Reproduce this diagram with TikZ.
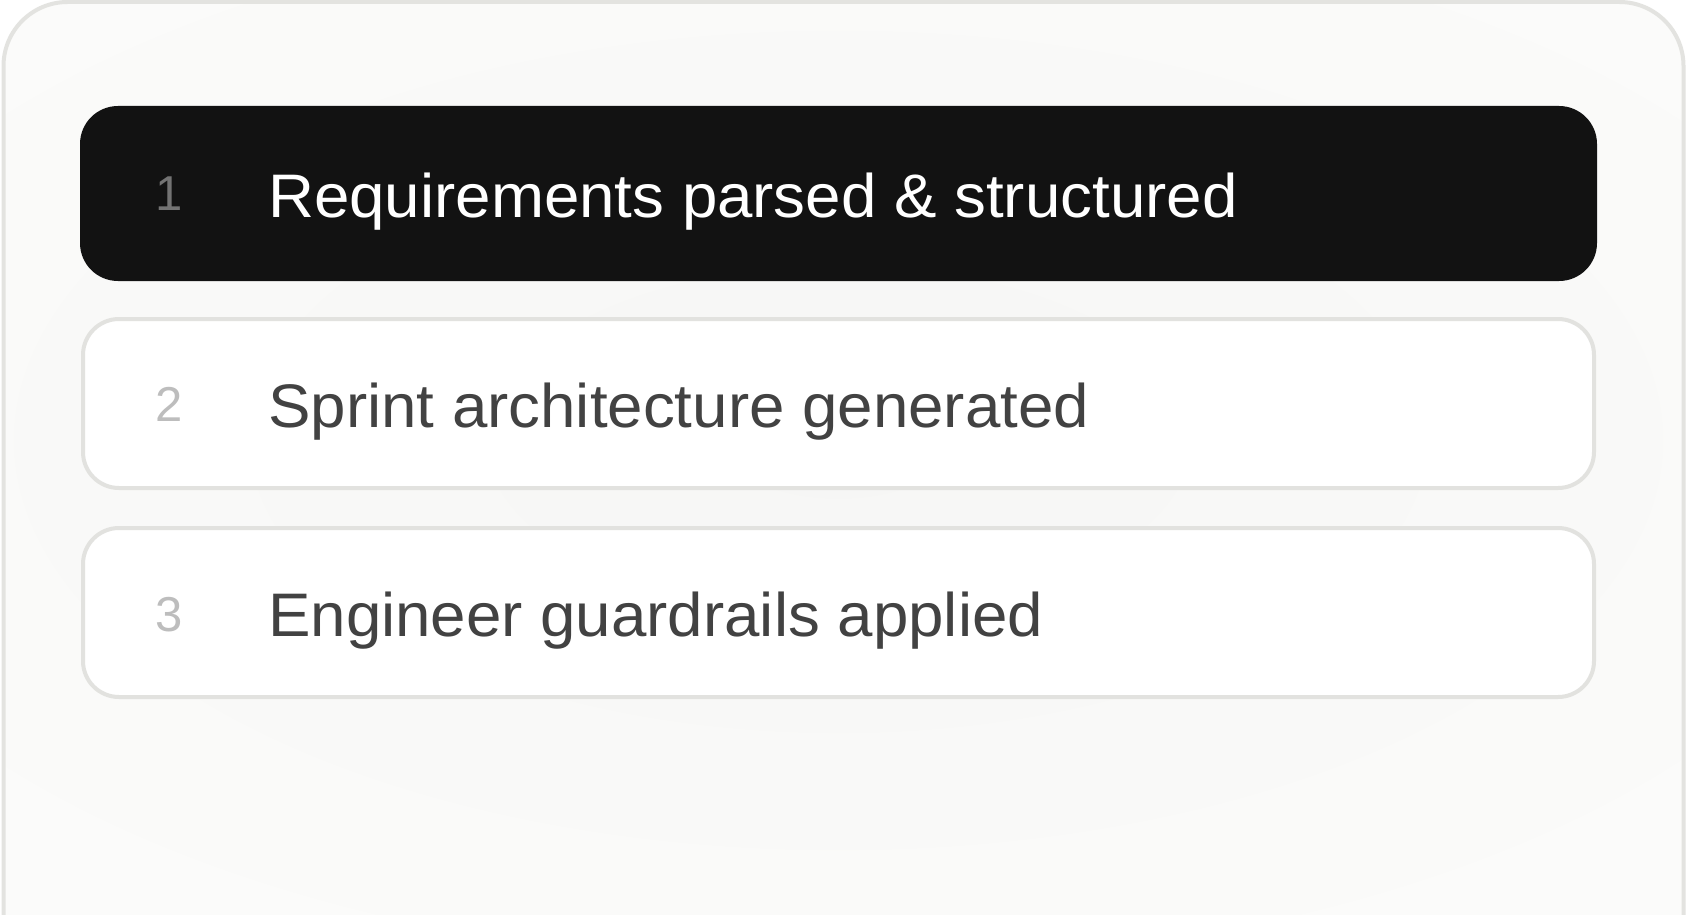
\documentclass[tikz,border=0pt]{standalone}
\usepackage{fontspec}
\setmainfont{Liberation Sans}
\newfontfamily\mainf[FakeStretch=1.035]{Liberation Sans}
\newfontfamily\numf{Liberation Sans}
\definecolor{cardline}{HTML}{E3E3E0}
\definecolor{cardbg}{HTML}{FDFDFC}
\definecolor{shadowc}{HTML}{F6F6F5}
\definecolor{darkbox}{HTML}{121212}
\definecolor{boxline}{HTML}{E2E2DF}
\definecolor{txtdark}{HTML}{424242}
\definecolor{numlight}{HTML}{BDBDBD}
\definecolor{numdark}{HTML}{737373}
\tikzset{
  activebox/.style={fill=darkbox, draw=none, rounded corners=38pt, minimum width=1517pt, minimum height=175pt, inner sep=0pt},
  stepbox/.style={fill=white, draw=boxline, line width=4pt, rounded corners=36pt, minimum width=1511pt, minimum height=169pt, inner sep=0pt},
  numtxt/.style={anchor=base west, inner sep=0pt, font=\numf\fontsize{49}{58}\selectfont},
  labtxt/.style={anchor=base west, inner sep=0pt, font=\mainf\fontsize{61.5}{72}\selectfont},
}
\begin{document}
\begin{tikzpicture}[x=1pt,y=-1pt]
\useasboundingbox (0,0) rectangle (1687,915);
\fill[white] (0,0) rectangle (1687,915);
\fill[cardbg, rounded corners=64pt] (3.5,980) -- (3.5,2) -- (1683.5,2) -- (1683.5,980);
\begin{scope}
  \clip[rounded corners=64pt] (3.5,980) -- (3.5,2) -- (1683.5,2) -- (1683.5,980) -- cycle;
  \shade[inner color=shadowc, outer color=cardbg] (838,440) ellipse [x radius=1650, y radius=820];
\end{scope}
\draw[cardline, line width=4pt, rounded corners=64pt] (3.5,980) -- (3.5,2) -- (1683.5,2) -- (1683.5,980);

\node[activebox] (s1) at (838.5,193.5) {};
\node[stepbox] (s2) at (838.5,403.5) {};
\node[stepbox] (s3) at (838.5,612.5) {};

\node[numtxt, text=numdark] (n1) at (155,211) {1};
\node[labtxt, text=white] (t1) at (268,217) {Requirements parsed \& structured};
\node[numtxt, text=numlight] (n2) at (155,421.5) {2};
\node[labtxt, text=txtdark] (t2) at (268,427) {Sprint architecture generated};
\node[numtxt, text=numlight] (n3) at (155,631) {3};
\node[labtxt, text=txtdark] (t3) at (268,636) {Engineer guardrails applied};
\end{tikzpicture}
\end{document}
